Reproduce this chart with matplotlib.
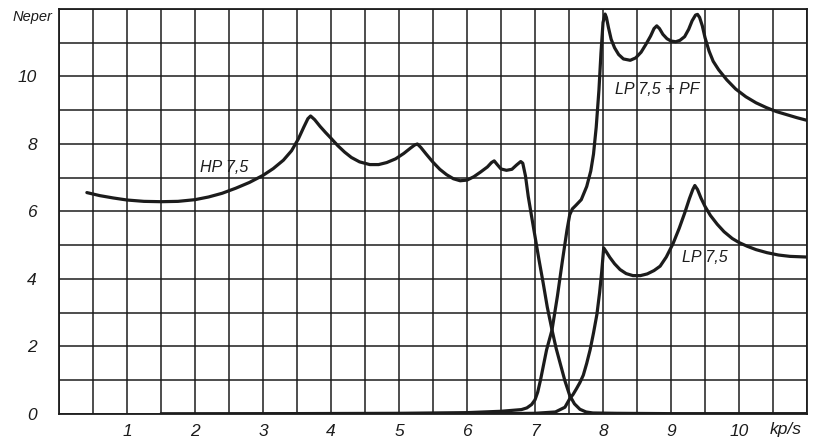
import matplotlib
matplotlib.use("Agg")
import matplotlib.pyplot as plt
import numpy as np

# attenuation curves (Neper) against frequency (kp/s)
hp_x = [0.41, 0.6, 0.8, 1.0, 1.25, 1.5, 1.75, 2.0, 2.2, 2.4, 2.6, 2.8, 3.0, 3.15,
        3.3, 3.42, 3.52, 3.6, 3.66, 3.7, 3.76, 3.84, 3.92, 4.0, 4.1, 4.2, 4.3, 4.42,
        4.57, 4.7, 4.82, 4.95, 5.07, 5.17, 5.23, 5.27, 5.32, 5.4, 5.5, 5.6, 5.7, 5.8,
        5.9, 6.0, 6.1, 6.2, 6.3, 6.36, 6.4, 6.44, 6.5, 6.58, 6.66, 6.73, 6.79, 6.82,
        6.86, 6.9, 6.95, 7.0, 7.06, 7.12, 7.18, 7.25, 7.31, 7.37, 7.44, 7.51, 7.58,
        7.66, 7.75, 7.85, 8.2, 9.0, 10.0, 11.0]
hp_y = [6.56, 6.47, 6.4, 6.34, 6.3, 6.29, 6.3, 6.35, 6.43, 6.54, 6.69, 6.86, 7.07,
        7.27, 7.52, 7.8, 8.15, 8.5, 8.75, 8.83, 8.72, 8.52, 8.34, 8.17, 7.95, 7.76,
        7.6, 7.47, 7.39, 7.39, 7.45, 7.56, 7.72, 7.88, 7.97, 8.0, 7.9, 7.7, 7.46,
        7.25, 7.09, 6.97, 6.91, 6.93, 7.03, 7.17, 7.32, 7.45, 7.5, 7.4, 7.26, 7.22,
        7.25, 7.38, 7.48, 7.43, 7.05, 6.45, 5.85, 5.26, 4.55, 3.88, 3.17, 2.49, 1.95,
        1.5, 0.98, 0.55, 0.3, 0.14, 0.06, 0.03, 0.02, 0.01, 0.01, 0.01]

lppf_x = [1.5, 5.0, 6.0, 6.5, 6.8, 6.88, 6.95, 7.0, 7.04, 7.08, 7.12, 7.17, 7.25,
          7.33, 7.4, 7.47, 7.51, 7.55, 7.6, 7.68, 7.76, 7.82, 7.86, 7.9, 7.94, 7.97,
          8.0, 8.03, 8.05, 8.08, 8.12, 8.17, 8.23, 8.3, 8.4, 8.48, 8.56, 8.63, 8.7,
          8.75, 8.79, 8.83, 8.88, 8.94, 9.0, 9.07, 9.13, 9.2, 9.26, 9.31, 9.36, 9.39,
          9.42, 9.46, 9.5, 9.56, 9.62, 9.7, 9.82, 9.95, 10.1, 10.25, 10.4, 10.55,
          10.7, 10.85, 11.0]
lppf_y = [0.0, 0.02, 0.04, 0.08, 0.13, 0.18, 0.28, 0.42, 0.65, 1.0, 1.4, 1.9, 2.49,
          3.5, 4.5, 5.45, 5.9, 6.08, 6.18, 6.35, 6.74, 7.2, 7.7, 8.5, 9.6, 10.7,
          11.6, 11.85, 11.75, 11.45, 11.1, 10.85, 10.65, 10.52, 10.48, 10.55, 10.72,
          10.95, 11.2, 11.42, 11.5, 11.42, 11.25, 11.12, 11.05, 11.03, 11.07, 11.18,
          11.4, 11.65, 11.82, 11.84, 11.75, 11.5, 11.15, 10.75, 10.45, 10.2, 9.9,
          9.63, 9.4, 9.22, 9.08, 8.96, 8.87, 8.78, 8.7]

lp_x = [1.5, 6.0, 7.0, 7.3, 7.44, 7.51, 7.56, 7.61, 7.66, 7.71, 7.76, 7.81, 7.86,
        7.91, 7.95, 7.98, 8.01, 8.05, 8.1, 8.17, 8.25, 8.34, 8.44, 8.55, 8.65, 8.75,
        8.84, 8.93, 9.03, 9.12, 9.2, 9.27, 9.32, 9.35, 9.39, 9.44, 9.5, 9.58, 9.68,
        9.78, 9.9, 10.0, 10.12, 10.25, 10.41, 10.58, 10.75, 11.0]
lp_y = [0.0, 0.0, 0.02, 0.06, 0.2, 0.45, 0.58, 0.75, 0.93, 1.15, 1.5, 1.9, 2.4,
        2.95, 3.6, 4.2, 4.92, 4.8, 4.64, 4.45, 4.28, 4.16, 4.1, 4.1, 4.15, 4.25,
        4.38, 4.65, 5.05, 5.5, 5.95, 6.38, 6.65, 6.77, 6.65, 6.4, 6.15, 5.88, 5.62,
        5.4, 5.2, 5.08, 4.97, 4.87, 4.78, 4.71, 4.67, 4.65]

x_ticks = [1, 2, 3, 4, 5, 6, 7, 8, 9, 10]
y_ticks = [0, 2, 4, 6, 8, 10]

ink = "#1c1c1c"
font = dict(family="Liberation Sans", style="italic", color=ink)

fig = plt.figure(figsize=(8.18, 4.45), dpi=100)
ax = fig.add_axes([0.0721, 0.0697, 0.9145, 0.9101])

ax.set_xlim(0, 11)
ax.set_ylim(0, 12)

# paper grid: every 0.5 kp/s, every 1 Neper
ax.set_xticks(np.arange(0, 11.01, 0.5), minor=True)
ax.set_yticks(np.arange(0, 12.01, 1), minor=True)
ax.set_xticks(x_ticks)
ax.set_yticks(y_ticks)
ax.grid(which="both", color=ink, linewidth=1.1)
ax.tick_params(which="both", length=0)
ax.tick_params(axis="x", pad=7)
ax.tick_params(axis="y", pad=16)
ax.set_xticklabels([str(v) for v in x_ticks], fontsize=12.5, **font)
ax.set_yticklabels([str(v) for v in y_ticks], fontsize=12.5, **font)
for s in ax.spines.values():
    s.set_color(ink)
    s.set_linewidth(1.3)

for xs, ys in [(hp_x, hp_y), (lppf_x, lppf_y), (lp_x, lp_y)]:
    ax.plot(xs, ys, color=ink, linewidth=2.3, solid_joinstyle="round",
            solid_capstyle="round", zorder=3)

ax.text(2.43, 7.3, "HP 7,5", fontsize=11.5, ha="center", va="center", **font)
ax.text(8.8, 9.6, "LP 7,5 + PF", fontsize=11.5, ha="center", va="center", **font)
ax.text(9.49, 4.63, "LP 7,5", fontsize=11.5, ha="center", va="center", **font)

ax.text(-0.1, 11.75, "Neper", fontsize=10.5, ha="right", va="center",
        clip_on=False, **font)
ax.text(10.69, -0.45, "kp/s", fontsize=12.5, ha="center", va="center",
        clip_on=False, **font)

fig.savefig("out.png", dpi=100, facecolor="white")
